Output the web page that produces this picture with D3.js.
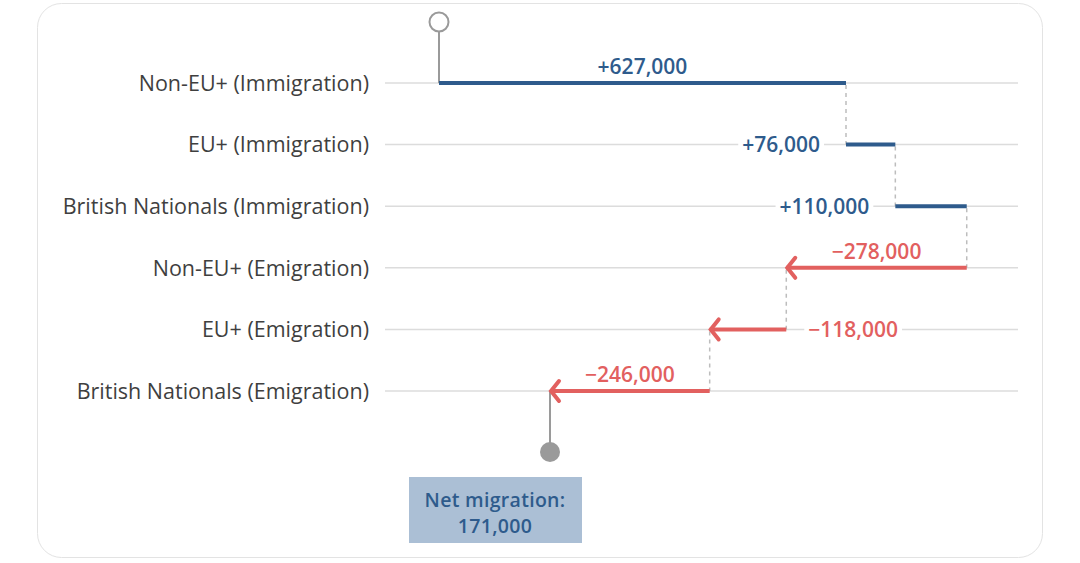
<!DOCTYPE html>
<html>
<head>
<meta charset="utf-8">
<script src="https://cdn.jsdelivr.net/npm/d3@7"></script>
<style>
  body { margin: 0; background: #fff; font-family: "Open Sans", sans-serif; }
</style>
</head>
<body>
<div id="chart"></div>
<script>
// data
var categories = ["Non-EU+ (Immigration)", "EU+ (Immigration)", "British Nationals (Immigration)",
                  "Non-EU+ (Emigration)", "EU+ (Emigration)", "British Nationals (Emigration)"];
var changes = [627000, 76000, 110000, -278000, -118000, -246000];
var valueLabels = ["+627,000", "+76,000", "+110,000", "\u2212278,000", "\u2212118,000", "\u2212246,000"];
var netLabel = ["Net migration:", "171,000"];

var W = 1080, H = 563;
var blue = "#2e5b8c", red = "#e2605f", grey = "#9a9a9a";

var svg = d3.select("#chart").append("svg").attr("width", W).attr("height", H);

// card
svg.append("rect").attr("x", 37.5).attr("y", 3.5).attr("width", 1005).attr("height", 554)
  .attr("rx", 24).style("fill", "#fff").style("stroke", "#e3e3e3");

// running totals
var steps = [];
var total = 0;
for (var i = 0; i < changes.length; i++) {
  steps.push({cat: categories[i], start: total, end: total + changes[i], val: changes[i], label: valueLabels[i]});
  total += changes[i];
}

var x = d3.scaleLinear().domain([0, 627000]).range([439, 846]);
var y = d3.scalePoint().domain(categories).range([83, 391]);

// grid lines
svg.selectAll("line.grid").data(categories).enter().append("line")
  .attr("class", "grid")
  .attr("x1", 385).attr("x2", 1018)
  .attr("y1", function(d){ return y(d); }).attr("y2", function(d){ return y(d); })
  .style("stroke", "#dcdcdc").style("stroke-width", 1.5);

// row labels
svg.selectAll("text.cat").data(categories).enter().append("text")
  .attr("class", "cat")
  .attr("x", 369).attr("y", function(d){ return y(d); }).attr("dy", "0.36em")
  .style("text-anchor", "end").style("font-size", "21.5px").style("fill", "#3f3f3f")
  .text(function(d){ return d; });

// dashed connectors
svg.selectAll("line.conn").data(steps.slice(0, steps.length - 1)).enter().append("line")
  .attr("class", "conn")
  .attr("x1", function(d){ return x(d.end); }).attr("x2", function(d){ return x(d.end); })
  .attr("y1", function(d, i){ return y(categories[i]) + 2; })
  .attr("y2", function(d, i){ return y(categories[i + 1]); })
  .style("stroke", "#bdbdbd").style("stroke-width", 1.5).style("stroke-dasharray", "4,4");

// start pin
svg.append("line").attr("x1", x(0)).attr("x2", x(0)).attr("y1", 32).attr("y2", y(categories[0]))
  .style("stroke", grey).style("stroke-width", 2);
svg.append("circle").attr("cx", x(0)).attr("cy", 22).attr("r", 9.5)
  .style("fill", "#fff").style("stroke", grey).style("stroke-width", 2);

// end pin
svg.append("line").attr("x1", x(total)).attr("x2", x(total)).attr("y1", y(categories[5])).attr("y2", 452)
  .style("stroke", grey).style("stroke-width", 2);
svg.append("circle").attr("cx", x(total)).attr("cy", 452).attr("r", 10).style("fill", grey);

// bars
var bar = svg.selectAll("g.step").data(steps).enter().append("g").attr("class", "step");
bar.append("line")
  .attr("x1", function(d){ return x(d.start); }).attr("x2", function(d){ return x(d.end); })
  .attr("y1", function(d){ return y(d.cat); }).attr("y2", function(d){ return y(d.cat); })
  .style("stroke", function(d){ return d.val > 0 ? blue : red; }).style("stroke-width", 4);

// arrowheads on negatives
bar.filter(function(d){ return d.val < 0; }).append("path")
  .attr("d", function(d){
    var ex = x(d.end), ey = y(d.cat);
    return "M" + (ex + 9) + "," + (ey - 10) + "L" + (ex + 1) + "," + ey + "L" + (ex + 9) + "," + (ey + 10);
  })
  .style("fill", "none").style("stroke", red).style("stroke-width", 4).style("stroke-linecap", "round");

// value labels
bar.each(function(d){
  var g = d3.select(this);
  var w = Math.abs(x(d.end) - x(d.start));
  var col = d.val > 0 ? blue : red;
  if (w > 120) {
    g.append("text")
      .attr("x", (x(d.start) + x(d.end)) / 2).attr("y", y(d.cat) - 9)
      .style("text-anchor", "middle").style("font-size", "21px").style("font-weight", 600)
      .style("fill", col).text(d.label);
  } else {
    var t = g.append("text")
      .attr("y", y(d.cat)).attr("dy", "0.36em")
      .style("font-size", "21px").style("font-weight", 600).style("fill", col).text(d.label);
    if (d.val > 0) t.attr("x", x(d.start) - 26).style("text-anchor", "end");
    else t.attr("x", x(d.start) + 22).style("text-anchor", "start");
    var bb = t.node().getBBox();
    g.insert("rect", "text").attr("x", bb.x - 4).attr("y", bb.y).attr("width", bb.width + 8).attr("height", bb.height)
      .style("fill", "#fff");
  }
});

// net migration box
var box = svg.append("g");
box.append("rect").attr("x", x(total) - 141).attr("y", 477).attr("width", 173).attr("height", 66)
  .style("fill", "#abbfd5");
box.selectAll("text").data(netLabel).enter().append("text")
  .attr("x", x(total) - 55).attr("y", function(d, i){ return 507 + i * 26; })
  .style("text-anchor", "middle").style("font-size", "19.5px").style("font-weight", 600)
  .style("letter-spacing", "0.3px").style("fill", blue)
  .text(function(d){ return d; });
</script>
</body>
</html>
